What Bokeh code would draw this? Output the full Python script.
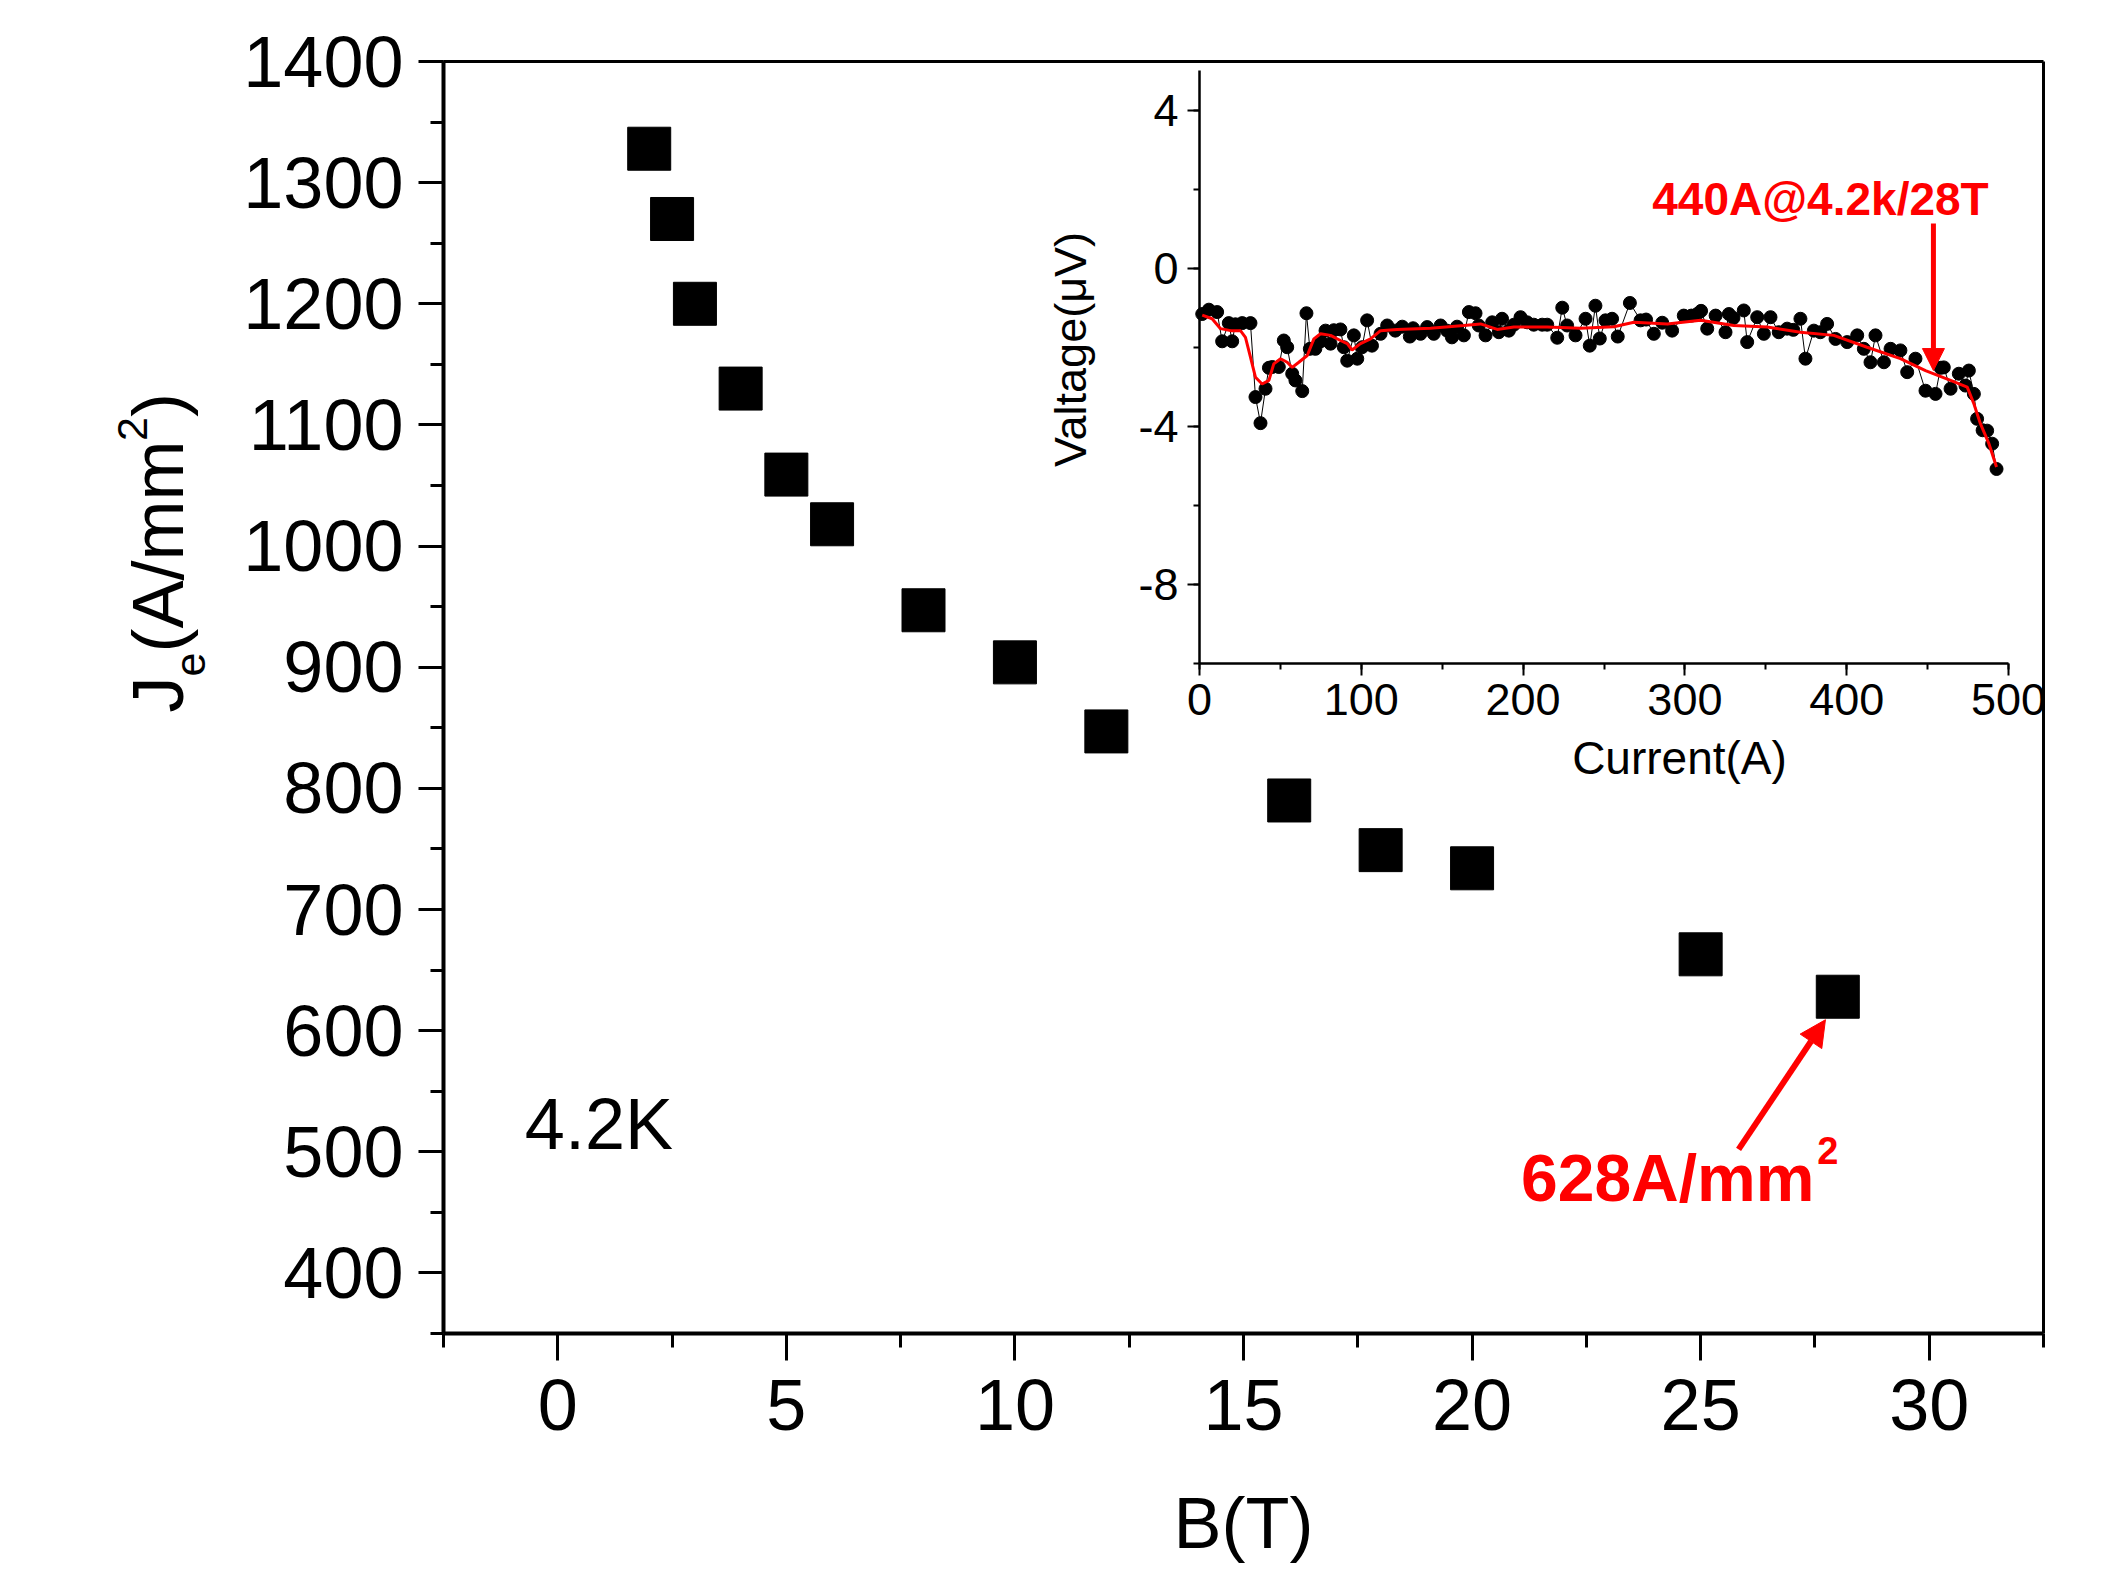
import math
from bokeh.plotting import figure
from bokeh.models import (Range1d, LinearAxis, SingleIntervalTicker, FixedTicker, Label, Arrow,
                          NormalHead, PrintfTickFormatter)
from bokeh.embed import file_html
from bokeh.resources import INLINE

# ---------------- data ----------------
B_T = [2, 2.5, 3, 4, 5, 6, 8, 10, 12, 16, 18, 20, 25, 28]
Je_A_mm2 = [1328, 1270, 1200, 1130, 1059, 1018, 947, 904, 847, 790, 749, 734, 663, 628]

current_A = [1.7, 5.8, 10.9, 14.0, 18.1, 20.2, 22.2, 26.4, 31.5, 34.6,
             37.7, 40.8, 42.9, 45.0, 49.0, 52.1, 54.2, 57.3, 59.3, 63.5,
             66.1, 68.2, 71.6, 74.8, 77.9, 81.0, 83.0, 87.1, 89.2, 91.3,
             95.4, 97.5, 100.5, 103.6, 106.6, 111.9, 116.0, 121.0, 125.3, 130.0,
             132.0, 136.6, 140.7, 144.8, 149.0, 153.0, 156.0, 159.2, 163.4, 166.5,
             170.6, 172.6, 176.8, 180.9, 185.0, 187.0, 191.2, 194.3, 198.4, 202.5,
             206.6, 211.8, 214.9, 221.1, 224.2, 227.2, 232.4, 238.6, 241.2, 244.7,
             247.4, 250.9, 255.0, 258.5, 266.0, 272.6, 276.0, 280.8, 286.0, 292.1,
             299.3, 304.0, 307.6, 310.0, 313.8, 319.0, 325.1, 327.2, 330.0, 336.4,
             338.5, 344.7, 348.8, 352.9, 358.0, 363.2, 367.0, 371.4, 374.5, 379.7,
             383.7, 387.9, 393.1, 400.3, 406.5, 410.6, 414.7, 417.8, 423.0, 427.1,
             433.2, 437.4, 442.5, 448.7, 454.9, 458.0, 460.0, 464.2, 469.3, 473.4,
             475.5, 478.6, 480.6, 484.0, 486.8, 489.9, 492.6]
voltage_uV = [-1.16, -1.05, -1.11, -1.85, -1.39, -1.85, -1.42, -1.39, -1.39, -3.26,
              -3.92, -3.05, -2.52, -2.50, -2.50, -1.83, -2.00, -2.67, -2.84, -3.11,
              -1.14, -2.04, -2.04, -1.85, -1.58, -1.91, -1.57, -1.55, -2.00, -2.34,
              -1.70, -2.29, -2.00, -1.32, -1.96, -1.66, -1.45, -1.58, -1.48, -1.73,
              -1.52, -1.66, -1.49, -1.66, -1.45, -1.58, -1.75, -1.48, -1.70, -1.11,
              -1.14, -1.45, -1.70, -1.37, -1.62, -1.28, -1.58, -1.43, -1.24, -1.37,
              -1.43, -1.43, -1.43, -1.76, -1.00, -1.45, -1.70, -1.28, -1.96, -0.95,
              -1.78, -1.32, -1.28, -1.73, -0.88, -1.32, -1.30, -1.66, -1.38, -1.58,
              -1.20, -1.20, -1.16, -1.08, -1.53, -1.20, -1.62, -1.16, -1.26, -1.07,
              -1.87, -1.24, -1.66, -1.24, -1.62, -1.53, -1.56, -1.28, -2.29, -1.58,
              -1.62, -1.41, -1.79, -1.87, -1.70, -2.04, -2.38, -1.70, -2.38, -2.04,
              -2.08, -2.63, -2.29, -3.10, -3.18, -2.52, -2.51, -3.05, -2.67, -2.97,
              -2.59, -3.18, -3.81, -4.10, -4.11, -4.44, -5.08]

fit_current_A = [1.7, 7.8, 13, 19.2, 25.3, 28.4, 31.5, 34.6, 38.7, 42.9,
                 45.9, 50.1, 54.2, 57.3, 61.4, 66.6, 70.7, 74.8, 81, 87.1,
                 91.3, 94.3, 99.5, 105.7, 111.9, 122.2, 142.8, 163.4, 173.7, 184,
                 194.3, 214.9, 235.5, 256.1, 268.5, 289.1, 309.7, 330.2, 350.8, 371.4,
                 392, 412.6, 433.2, 448.7, 464.2, 474.5, 478.6, 482.7, 487.9, 492.6]
fit_voltage_uV = [-1.19, -1.28, -1.53, -1.58, -1.58, -1.75, -2.25, -2.76, -2.93, -2.84,
                  -2.42, -2.29, -2.38, -2.51, -2.38, -2.21, -1.79, -1.66, -1.70, -1.83,
                  -1.91, -2.07, -1.91, -1.79, -1.58, -1.55, -1.52, -1.45, -1.41, -1.55,
                  -1.49, -1.49, -1.52, -1.48, -1.37, -1.41, -1.32, -1.45, -1.49, -1.62,
                  -1.70, -2.0, -2.29, -2.59, -2.84, -3.01, -3.43, -3.94, -4.44, -5.03]

# ---------------- layout ----------------
FONT = "Liberation Sans"
W, H = 2100, 1570
FL, FT, FR, FB = 443, 61, 2043, 1333          # main axes box (px)
IL, IR, IT, IB = 1199, 2008, 70, 663          # inset box (px): I 0..500, V 5..-10

X0, X1 = -2.5, 32.5
Y0, Y1 = 350, 1400
I0, I1 = 0, 500
V0, V1 = -10, 5

# the plotting frame covers the whole canvas; the axes are placed at fixed locations
pxu = (FR - FL) / (X1 - X0)
pyu = (FB - FT) / (Y1 - Y0)
x_start, x_end = X0 - FL / pxu, X1 + (W - FR) / pxu
y_start, y_end = Y0 - (H - FB) / pyu, Y1 + FT / pyu

ixu = (IR - IL) / (I1 - I0)
iyu = (IB - IT) / (V1 - V0)
ix_start, ix_end = I0 - IL / ixu, I1 + (W - IR) / ixu
iy_start, iy_end = V0 - (H - IB) / iyu, V1 + IT / iyu


def y_of_px(py):
    return Y1 - (py - FT) / pyu


def x_of_px(px):
    return X0 + (px - FL) / pxu


p = figure(width=W, height=H, x_range=Range1d(x_start, x_end), y_range=Range1d(y_start, y_end),
           output_backend="svg", toolbar_location=None,
           x_axis_location=None, y_axis_location=None,
           min_border=0, min_border_left=0, min_border_right=0, min_border_top=0, min_border_bottom=0,
           background_fill_color="white", border_fill_color="white", outline_line_color=None)
p.grid.visible = False
p.extra_x_ranges = {"ix": Range1d(ix_start, ix_end)}
p.extra_y_ranges = {"iy": Range1d(iy_start, iy_end)}


def title_axis(side, text, size, fixed, center, standoff, xr="default", yr="default", half=0.5):
    ax = LinearAxis(x_range_name=xr, y_range_name=yr, fixed_location=fixed,
                    bounds=(center - half, center + half),
                    ticker=FixedTicker(ticks=[], minor_ticks=[]), axis_line_color=None,
                    major_tick_out=0, major_tick_in=0, minor_tick_out=0, minor_tick_in=0,
                    major_label_standoff=0, axis_label=text, axis_label_standoff=standoff,
                    axis_label_text_font=FONT, axis_label_text_font_size=f"{size}px",
                    axis_label_text_font_style="normal", axis_label_text_color="black")
    p.add_layout(ax, side)


def border_axis(side, fixed, bounds):
    ax = LinearAxis(fixed_location=fixed, bounds=bounds, ticker=FixedTicker(ticks=[], minor_ticks=[]),
                    axis_line_width=3, axis_line_color="black",
                    major_tick_out=0, major_tick_in=0, minor_tick_out=0, minor_tick_in=0,
                    major_label_text_font_size="0px")
    p.add_layout(ax, side)


# main x axis
xa = LinearAxis(fixed_location=Y0, bounds=(X0, X1),
                ticker=SingleIntervalTicker(interval=5, num_minor_ticks=2))
xa.axis_line_width = 4
xa.major_tick_line_width = 3
xa.minor_tick_line_width = 3
xa.major_tick_in = 0
xa.major_tick_out = 27
xa.minor_tick_in = 0
xa.minor_tick_out = 14
xa.major_label_text_font = FONT
xa.major_label_text_font_size = "72px"
xa.major_label_text_color = "black"
xa.major_label_standoff = 19
xa.axis_label = "B(T)"
xa.axis_label_text_font = FONT
xa.axis_label_text_font_size = "72px"
xa.axis_label_text_font_style = "normal"
xa.axis_label_text_color = "black"
xa.axis_label_standoff = 50
p.add_layout(xa, "below")

# main y axis
ya = LinearAxis(fixed_location=X0, bounds=(Y0, Y1),
                ticker=SingleIntervalTicker(interval=100, num_minor_ticks=2))
ya.axis_line_width = 4
ya.major_tick_line_width = 3
ya.minor_tick_line_width = 3
ya.major_tick_in = 0
ya.major_tick_out = 25
ya.minor_tick_in = 0
ya.minor_tick_out = 13
ya.major_label_text_font = FONT
ya.major_label_text_font_size = "72px"
ya.major_label_text_color = "black"
ya.major_label_standoff = 15
p.add_layout(ya, "left")

# top and right border lines
border_axis("above", Y1, (X0, X1))
border_axis("right", X1, (Y0, Y1))

# y axis title built from pieces: J, subscript e, (A/mm, superscript 2, )
F, Fs = 72, 43
pieces = [("J", F, 246, 0.5), ("e", Fs, 239, 0.556), ("(A/mm", F, 246, 2.944),
          ("2", Fs, 297, 0.556), (")", F, 246, 0.333)]
cur = 712
for txt, fs, so, wem in pieces:
    length = wem * fs
    title_axis("left", txt, fs, X0, y_of_px(cur - length / 2), so, half=0.3)
    cur -= length

# main data
p.scatter(B_T, Je_A_mm2, marker="square", size=43, color="black")

p.add_layout(Label(x=-0.72, y=523, text="4.2K", text_font=FONT, text_font_size="72px",
                   text_color="black", text_baseline="alphabetic"))
p.add_layout(Label(x=21.07, y=478, text="628A/mm", text_font=FONT, text_font_size="66px",
                   text_font_style="bold", text_color="red", text_baseline="alphabetic"))
p.add_layout(Label(x=27.55, y=501, text="2", text_font=FONT, text_font_size="38px",
                   text_font_style="bold", text_color="red", text_baseline="alphabetic"))
p.add_layout(Arrow(x_start=25.83, y_start=502, x_end=27.73, y_end=609, line_color="red", line_width=6,
                   end=NormalHead(size=26, fill_color="red", line_color="red", line_width=1)))

# ---------------- inset ----------------
iya = LinearAxis(x_range_name="ix", y_range_name="iy", fixed_location=0, bounds=(V0, V1),
                 ticker=SingleIntervalTicker(interval=4, num_minor_ticks=2),
                 formatter=PrintfTickFormatter(format="%d"))
ixa = LinearAxis(x_range_name="ix", y_range_name="iy", fixed_location=V0, bounds=(I0, I1),
                 ticker=SingleIntervalTicker(interval=100, num_minor_ticks=2),
                 formatter=PrintfTickFormatter(format="%d"))
for ax in (iya, ixa):
    ax.axis_line_width = 2.5
    ax.axis_line_color = "black"
    ax.major_tick_line_width = 2
    ax.minor_tick_line_width = 2
    ax.major_tick_in = 0
    ax.major_tick_out = 12
    ax.minor_tick_in = 0
    ax.minor_tick_out = 6
    ax.major_label_text_font = FONT
    ax.major_label_text_font_size = "45px"
    ax.major_label_text_color = "black"
iya.major_label_standoff = 9
ixa.major_label_standoff = 8
p.add_layout(iya, "left")
p.add_layout(ixa, "below")

title_axis("left", "Valtage(μV)", 45, 0, -2.06, 104, xr="ix", yr="iy", half=0.2)
title_axis("below", "Current(A)", 46, V0, 296.7, 68, xr="ix", yr="iy", half=5)

p.line(current_A, voltage_uV, x_range_name="ix", y_range_name="iy", line_color="black", line_width=1)
p.scatter(current_A, voltage_uV, x_range_name="ix", y_range_name="iy", size=13, color="black")
p.line(fit_current_A, fit_voltage_uV, x_range_name="ix", y_range_name="iy", line_color="red", line_width=3)

p.add_layout(Label(x=383.8, y=1.75, x_range_name="ix", y_range_name="iy", text="440A@4.2k/28T",
                   text_font=FONT, text_font_size="46px", text_font_style="bold", text_color="red",
                   text_align="center", text_baseline="alphabetic"))
p.add_layout(Arrow(x_start=453.6, y_start=1.13, x_end=453.6, y_end=-2.59, x_range_name="ix", y_range_name="iy",
                   line_color="red", line_width=5,
                   end=NormalHead(size=22, fill_color="red", line_color="red", line_width=1)))

open("out.html", "w").write(file_html(p, INLINE))
